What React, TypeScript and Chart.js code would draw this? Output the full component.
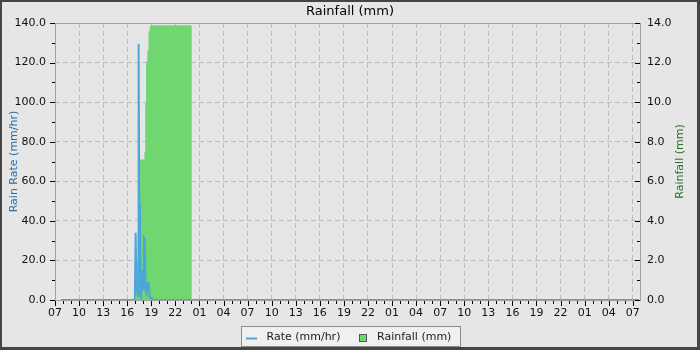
import React, { useEffect, useRef } from 'react';
import { Chart, registerables } from 'chart.js';

Chart.register(...registerables);

// Hours since 07:00 on the first day
const START_HOUR = 7;
const X_MAX = 72.9;

const rateHours = [0.75, 9.95, 10.05, 10.15, 10.28, 10.36, 10.42, 10.5, 10.58, 10.66, 10.74, 10.86, 10.95, 11.03, 11.1, 11.2, 11.3, 11.42, 11.55, 11.68, 11.78, 11.9, 12.05, 12.15, 72.8];
const rateValues = [0, 0, 34, 6.5, 3, 2, 129.5, 48.5, 48, 3.5, 2, 15, 15, 5, 31, 30, 4, 3, 8.6, 8.6, 2.5, 1, 1, 0, 0];

// Each total holds from its hour until the next hour
const rainHours = [10.08, 10.15, 10.3, 10.45, 10.6, 11.15, 11.25, 11.35, 11.5, 11.6, 11.68, 11.8, 11.95, 17.05];
const rainTotals = [0.5, 2.0, 3.2, 5.5, 7.1, 7.5, 9.95, 12.0, 12.6, 13.0, 13.6, 13.83, 13.88, 0];

const TITLE = 'Rainfall (mm)';
const LEFT_TITLE = 'Rain Rate (mm/hr)';
const RIGHT_TITLE = 'Rainfall (mm)';
const LEGEND_RATE = 'Rate (mm/hr)';
const LEGEND_RAIN = 'Rainfall (mm)';

const BLUE = '#4da6da';
const GREEN = '#70d670';
const FONT = '"DejaVu Sans"';

const pad2 = (n: number) => (n < 10 ? '0' + n : '' + n);

const decorPlugin = {
  id: 'decor',
  beforeDraw(chart: any) {
    const { ctx, width, height } = chart;
    ctx.save();
    ctx.fillStyle = '#e6e6e6';
    ctx.fillRect(0, 0, width, height);
    ctx.restore();
  },
  beforeDatasetsDraw(chart: any) {
    const { ctx, chartArea: a } = chart;
    ctx.save();
    ctx.strokeStyle = '#a0a0a0';
    ctx.lineWidth = 1;
    ctx.strokeRect(a.left + 0.5, a.top + 0.5, a.right - a.left, a.bottom - a.top);
    ctx.restore();
  },
  afterDraw(chart: any) {
    const { ctx, chartArea: a, width, height } = chart;
    const xs = chart.scales.x;
    const ys = chart.scales.y;
    const ys2 = chart.scales.y2;
    ctx.save();
    // tick marks
    ctx.strokeStyle = '#000';
    ctx.lineWidth = 1;
    ctx.beginPath();
    xs.ticks.forEach((t: any) => {
      const v = Math.round(t.value);
      if (Math.abs(v - t.value) > 1e-6) return;
      const px = Math.round(xs.getPixelForValue(v)) + 0.5;
      const len = v % 3 === 0 ? 5 : 3;
      ctx.moveTo(px, a.bottom + 1);
      ctx.lineTo(px, a.bottom + 1 + len);
    });
    ys.ticks.forEach((t: any) => {
      const v = Math.round(t.value);
      const py = Math.round(ys.getPixelForValue(v)) + 0.5;
      const len = v % 20 === 0 ? 5 : 3;
      ctx.moveTo(a.left - len, py);
      ctx.lineTo(a.left, py);
    });
    ys2.ticks.forEach((t: any) => {
      const v = Math.round(t.value);
      const py = Math.round(ys2.getPixelForValue(v)) + 0.5;
      const len = v % 2 === 0 ? 5 : 3;
      ctx.moveTo(a.right - len, py);
      ctx.lineTo(a.right, py);
    });
    ctx.stroke();

    // title
    ctx.fillStyle = '#000';
    ctx.font = `13px ${FONT}`;
    ctx.textAlign = 'center';
    ctx.textBaseline = 'middle';
    ctx.fillText(TITLE, width / 2, 12);

    // axis titles
    const midY = (a.top + a.bottom) / 2;
    ctx.font = `11px ${FONT}`;
    ctx.save();
    ctx.translate(14.5, midY);
    ctx.rotate(-Math.PI / 2);
    ctx.fillStyle = '#2b6ea5';
    ctx.fillText(LEFT_TITLE, 0, 0);
    ctx.restore();
    ctx.save();
    ctx.translate(680, midY);
    ctx.rotate(-Math.PI / 2);
    ctx.fillStyle = '#2a6e2a';
    ctx.fillText(RIGHT_TITLE, 0, 0);
    ctx.restore();

    // legend
    ctx.fillStyle = '#f0f0f0';
    ctx.fillRect(241, 326, 220, 21);
    ctx.strokeStyle = '#8c8c8c';
    ctx.strokeRect(241.5, 326.5, 219, 20);
    ctx.strokeStyle = BLUE;
    ctx.lineWidth = 2;
    ctx.beginPath();
    ctx.moveTo(246, 338.5);
    ctx.lineTo(257, 338.5);
    ctx.stroke();
    ctx.fillStyle = GREEN;
    ctx.fillRect(359, 334, 8, 8);
    ctx.strokeStyle = '#555';
    ctx.lineWidth = 1;
    ctx.strokeRect(359.5, 334.5, 7, 7);
    ctx.fillStyle = '#1a1a1a';
    ctx.textAlign = 'left';
    ctx.textBaseline = 'middle';
    ctx.fillText(LEGEND_RATE, 266.5, 337);
    ctx.fillText(LEGEND_RAIN, 377, 337);

    // outer frame
    ctx.fillStyle = '#454545';
    ctx.fillRect(0, 0, width, 2);
    ctx.fillRect(0, 0, 2, height);
    ctx.fillRect(0, height - 3, width, 3);
    ctx.fillRect(width - 3, 0, 3, height);
    ctx.restore();
  },
};

export default function App() {
  const ref = useRef<HTMLCanvasElement>(null);
  useEffect(() => {
    document.body.style.margin = '0';
    Chart.defaults.font.family = FONT;
    Chart.defaults.font.size = 11;
    const rateData = rateHours.map((h, i) => ({ x: h, y: rateValues[i] }));
    // step outline: at each hour, go vertically from the previous total to the new one
    const rainData: { x: number; y: number }[] = [];
    let prev = 0;
    rainHours.forEach((h, i) => {
      rainData.push({ x: h, y: prev });
      rainData.push({ x: h, y: rainTotals[i] });
      prev = rainTotals[i];
    });
    const chart = new Chart(ref.current as HTMLCanvasElement, {
      type: 'line',
      data: {
        datasets: [
          {
            label: LEGEND_RATE,
            data: rateData,
            borderColor: BLUE,
            borderWidth: 2,
            pointRadius: 0,
            tension: 0,
            fill: false,
            yAxisID: 'y',
          },
          {
            label: LEGEND_RAIN,
            data: rainData,
            borderWidth: 0,
            borderColor: 'rgba(0,0,0,0)',
            backgroundColor: GREEN,
            pointRadius: 0,
            tension: 0,
            fill: 'origin',
            yAxisID: 'y2',
          },
        ],
      },
      options: {
        animation: false,
        responsive: false,
        devicePixelRatio: 1,
        layout: { padding: { top: 23, left: 0, right: 0, bottom: 0 } },
        plugins: {
          legend: { display: false },
          title: { display: false },
          tooltip: { enabled: false },
        },
        scales: {
          x: {
            type: 'linear',
            min: 0,
            max: X_MAX,
            afterFit: (s: any) => {
              s.height = 50;
            },
            border: { display: false, dash: [5, 3] },
            grid: {
              drawTicks: false,
              color: (c: any) => {
                const v = c.tick ? Math.round(c.tick.value) : -1;
                return v > 0 && v % 3 === 0 && Math.abs(v - c.tick.value) < 1e-6 ? '#bcbcbc' : 'rgba(0,0,0,0)';
              },
            },
            ticks: {
              stepSize: 1,
              autoSkip: false,
              maxRotation: 0,
              includeBounds: false,
              padding: 7,
              color: '#111',
              callback: (v: any) => {
                const n = Math.round(Number(v));
                if (n % 3 !== 0) return '';
                return pad2((START_HOUR + n) % 24);
              },
            },
          },
          y: {
            type: 'linear',
            position: 'left',
            min: 0,
            max: 140,
            afterFit: (s: any) => {
              s.width = 55;
            },
            border: { display: false, dash: [5, 3] },
            grid: {
              drawTicks: false,
              color: (c: any) => {
                const v = c.tick ? Math.round(c.tick.value) : -1;
                return v > 0 && v < 140 && v % 20 === 0 ? '#bcbcbc' : 'rgba(0,0,0,0)';
              },
            },
            ticks: {
              stepSize: 10,
              padding: 9,
              color: '#111',
              callback: (v: any) => {
                const n = Math.round(Number(v));
                return n % 20 === 0 ? n.toFixed(1) : '';
              },
            },
          },
          y2: {
            type: 'linear',
            position: 'right',
            min: 0,
            max: 14,
            afterFit: (s: any) => {
              s.width = 60;
            },
            border: { display: false },
            grid: { display: false, drawOnChartArea: false, drawTicks: false },
            ticks: {
              stepSize: 1,
              padding: 7,
              color: '#111',
              callback: (v: any) => {
                const n = Math.round(Number(v));
                return n % 2 === 0 ? n.toFixed(1) : '';
              },
            },
          },
        },
      },
      plugins: [decorPlugin],
    } as any);
    return () => chart.destroy();
  }, []);
  return (
    <canvas
      ref={ref}
      width={700}
      height={350}
      style={{ display: 'block', width: 700, height: 350 }}
    />
  );
}
